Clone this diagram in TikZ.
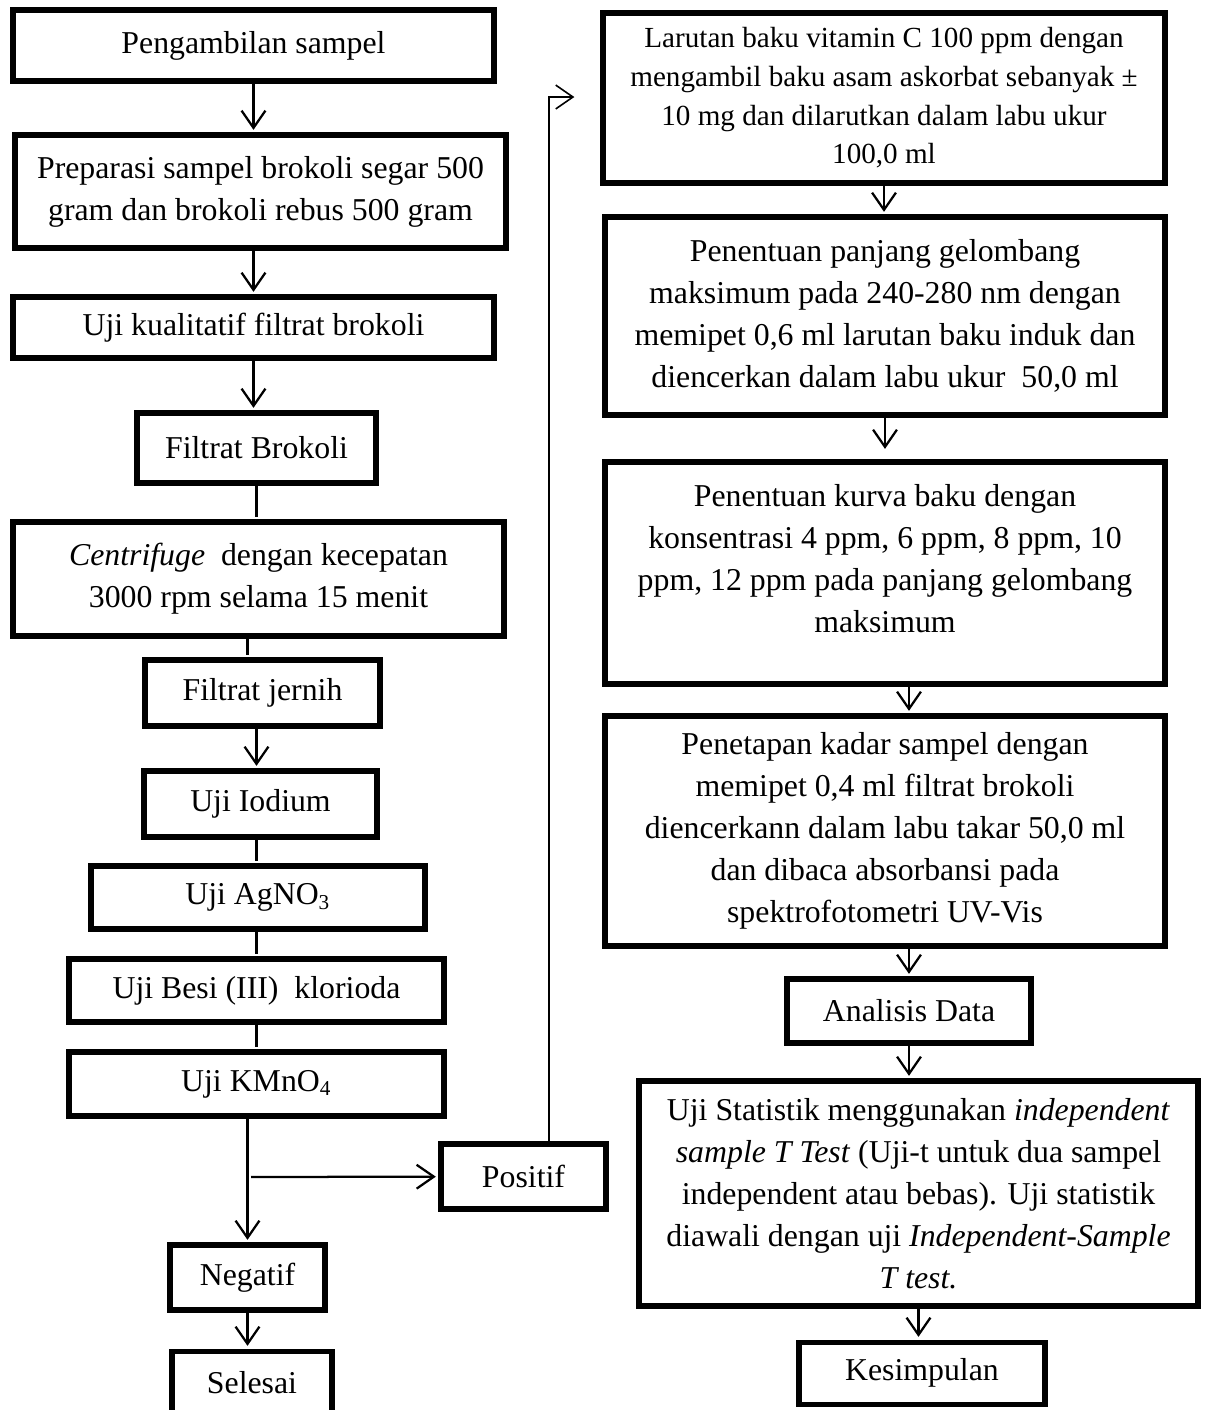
\documentclass[tikz,border=0pt]{standalone}
\usepackage{fontspec}
\setmainfont{Liberation Serif}
\usetikzlibrary{arrows.meta}

\begin{document}
\begin{tikzpicture}[x=0.37736pt,y=-0.37736pt,shorten >=1pt,
  >={Straight Barb[length=6.5pt,width=9pt]},
  box/.style={draw,line width=1.9pt,align=center,inner sep=0pt,
    font=\fontsize{12}{15.9}\selectfont},
  sz/.style 2 args={minimum width=#1*0.37736pt,minimum height=#2*0.37736pt},
  conn/.style={line width=0.85pt}]
  \useasboundingbox (0,0) rectangle (1205,1410);
  \clip (0,0) rectangle (1205,1410);

  % left column
  \node[box,sz={481}{71}] (ambil) at (253.5,45.5) {Pengambilan sampel};
  \node[box,sz={491}{113}] (prep) at (260.5,191.5)
    {Preparasi sampel brokoli segar 500\\gram dan brokoli rebus 500 gram};
  \node[box,sz={481}{61}] (kual) at (253.5,327.5) {Uji kualitatif filtrat brokoli};
  \node[box,sz={239}{70}] (filbrok) at (256.5,448) {Filtrat Brokoli};
  \node[box,sz={491}{114}] (centri) at (258.5,579)
    {\textit{Centrifuge}\ \ dengan kecepatan\\3000 rpm selama 15 menit};
  \node[box,sz={235}{66}] (filjer) at (262.5,693) {Filtrat jernih};
  \node[box,sz={233}{66}] (iod) at (260.5,804) {Uji Iodium};
  \node[box,sz={334}{63}] (agno) at (258,897.5) {Uji AgNO\textsubscript{3}};
  \node[box,sz={375}{63}] (besi) at (256.5,990.5) {Uji Besi (III)\ \ klorioda};
  \node[box,sz={375}{64}] (kmno) at (256.5,1084) {Uji KMnO\textsubscript{4}};
  \node[box,sz={165}{65}] (posi) at (523.5,1176.5) {Positif};
  \node[box,sz={155}{65}] (nega) at (247.5,1277.5) {Negatif};
  \node[box,sz={160}{64}] (selesai) at (252,1383) {Selesai};

  % right column
  \node[box,sz={562}{170},font=\fontsize{11}{14.6}\selectfont] (baku) at (884,98)
    {Larutan baku vitamin C 100 ppm dengan\\mengambil baku asam askorbat sebanyak ±\\
     10 mg dan dilarutkan dalam labu ukur\\100,0 ml};
  \node[box,sz={560}{198}] (lamda) at (885,316)
    {Penentuan panjang gelombang\\maksimum pada 240-280 nm dengan\\
     memipet 0,6 ml larutan baku induk dan\\diencerkan dalam labu ukur\ \ 50,0 ml};
  \node[box,sz={560}{222}] (kurva) at (885,573)
    {Penentuan kurva baku dengan\\konsentrasi 4 ppm, 6 ppm, 8 ppm, 10\\
     ppm, 12 ppm pada panjang gelombang\\maksimum\\[-5pt]\mbox{}};
  \node[box,sz={560}{230}] (kadar) at (885,831)
    {Penetapan kadar sampel dengan\\memipet 0,4 ml filtrat brokoli\\
     diencerkann dalam labu takar 50,0 ml\\dan dibaca absorbansi pada\\
     spektrofotometri UV-Vis};
  \node[box,sz={244}{64}] (analisis) at (909,1011) {Analisis Data};
  \node[box,sz={559}{225}] (stat) at (918.5,1193.5)
    {Uji Statistik menggunakan \textit{independent}\\
     \textit{sample T Test} (Uji-t untuk dua sampel\\
     independent atau bebas). Uji statistik\\
     diawali dengan uji \textit{Independent-Sample}\\\textit{T test.}};
  \node[box,sz={246}{62}] (simpul) at (922,1373) {Kesimpulan};

  \coordinate (split) at (251,1177);
  \coordinate (naik) at (549,97);
  \coordinate (balik) at (577,97);

  \path[->,conn]
    (ambil) edge (ambil |- prep.north)
    (kual |- prep.south) edge (kual)
    (kual) edge (kual |- filbrok.north)
    (filbrok) edge[-] (filbrok |- centri.north)
    (centri.south -| nega) edge[-] (filjer.north -| nega)
    (filjer.south -| filbrok) edge (iod.north -| filbrok)
    (iod.south -| besi) edge[-] (agno.north -| besi)
    (agno.south -| besi) edge[-] (besi)
    (besi) edge[-] (kmno)
    (kmno.south -| nega) edge (nega)
    (split) edge (posi)
    (nega) edge (nega |- selesai.north)
    (baku) edge (baku |- lamda.north)
    (lamda) edge[shorten >=4pt] (lamda |- kurva.north)
    (kurva.south -| analisis) edge (kadar.north -| analisis)
    (kadar.south -| analisis) edge (analisis)
    (analisis) edge (analisis |- stat.north)
    (stat) edge (stat |- simpul.north);

  \draw[->,line width=0.6pt] (posi.north -| naik) -- (naik) -- (balik);
\end{tikzpicture}
\end{document}
